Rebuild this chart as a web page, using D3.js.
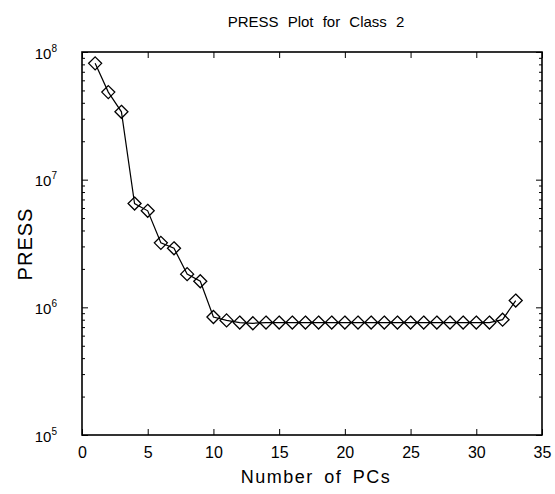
<!DOCTYPE html>
<html>
<head>
<meta charset="utf-8">
<script src="https://cdn.jsdelivr.net/npm/d3@7"></script>
<style>
  body { margin: 0; background: #fff; }
  svg { display: block; font-family: "Liberation Sans", Arial, sans-serif; }
  .domain { display: none; }
</style>
</head>
<body>
<svg id="chart"></svg>
<script>
let pcs = d3.range(1, 34)
let press = [
  8.15e7, 4.85e7, 3.4e7, 6.5e6, 5.7e6, 3.2e6, 2.9e6, 1.82e6, 1.6e6, 8.4e5,
  7.9e5, 7.6e5, 7.5e5, 7.6e5, 7.6e5, 7.6e5, 7.6e5, 7.6e5, 7.6e5, 7.6e5,
  7.6e5, 7.6e5, 7.6e5, 7.6e5, 7.6e5, 7.6e5, 7.6e5, 7.6e5, 7.6e5, 7.6e5,
  7.6e5, 8.0e5, 1.13e6
]
let xTicks = [0, 5, 10, 15, 20, 25, 30, 35]
let yTicks = [1e5, 1e6, 1e7, 1e8]
let yMinor = []
for (let e = 5; e < 8; e++) for (let m = 2; m <= 9; m++) yMinor.push(m * Math.pow(10, e))

let width = 555
let height = 494
let padLeft = 82, padRight = 542, padTop = 52, padBottom = 435

let svg = d3.select('#chart').attr('width', width).attr('height', height)

let xScale = d3.scaleLinear().domain([0, 35]).range([padLeft, padRight])
let yScale = d3.scaleLog().domain([1e5, 1e8]).range([padBottom, padTop])

// frame
svg.append('rect')
   .attr('x', padLeft).attr('y', padTop)
   .attr('width', padRight - padLeft).attr('height', padBottom - padTop)
   .attr('fill', 'none').attr('stroke', '#000').attr('stroke-width', 1.6)

// x axes (bottom with labels, top ticks only)
let xb = svg.append('g')
   .attr('transform', 'translate(0,' + padBottom + ')')
   .call(d3.axisBottom(xScale).tickValues(xTicks).tickSize(-6).tickPadding(12))
xb.selectAll('text').attr('font-size', 16).attr('fill', '#000').style('font-family', 'inherit')

svg.append('g')
   .attr('transform', 'translate(0,' + padTop + ')')
   .call(d3.axisTop(xScale).tickValues(xTicks).tickSize(-6).tickFormat(''))

// y axes
let yl = svg.append('g')
   .attr('transform', 'translate(' + padLeft + ',0)')
   .call(d3.axisLeft(yScale).tickValues(yTicks).tickSize(-6).tickPadding(25))
yl.selectAll('text').each(function (d) {
    let t = d3.select(this).text(null).attr('font-size', 15).attr('fill', '#000')
      .style('font-family', 'inherit').attr('dy', '0.4em')
    t.append('tspan').text('10')
    t.append('tspan').text(Math.round(Math.log10(d))).attr('font-size', 10).attr('dy', '-0.7em')
})
svg.append('g')
   .attr('transform', 'translate(' + padLeft + ',0)')
   .call(d3.axisLeft(yScale).tickValues(yMinor).tickSize(-3).tickFormat(''))
svg.append('g')
   .attr('transform', 'translate(' + padRight + ',0)')
   .call(d3.axisRight(yScale).tickValues(yTicks).tickSize(-6).tickFormat(''))
svg.append('g')
   .attr('transform', 'translate(' + padRight + ',0)')
   .call(d3.axisRight(yScale).tickValues(yMinor).tickSize(-3).tickFormat(''))

svg.selectAll('.tick line').attr('stroke', '#000').attr('stroke-width', 1)

// line
let line = d3.line().x((d, i) => xScale(pcs[i])).y(d => yScale(d))
svg.append('path')
   .datum(press)
   .attr('d', line)
   .attr('fill', 'none').attr('stroke', '#000').attr('stroke-width', 1.2)

// diamond markers
svg.selectAll('.mk')
   .data(press)
   .enter()
   .append('path')
   .attr('class', 'mk')
   .attr('d', 'M0,-6.5L6.5,0L0,6.5L-6.5,0Z')
   .attr('transform', (d, i) => 'translate(' + xScale(pcs[i]) + ',' + yScale(d) + ')')
   .attr('fill', 'none').attr('stroke', '#000').attr('stroke-width', 1.3)

// titles
svg.append('text')
   .attr('x', 316).attr('y', 27)
   .attr('text-anchor', 'middle').attr('font-size', 15)
   .style('word-spacing', '5px')
   .text('PRESS Plot for Class 2')

svg.append('text')
   .attr('x', 316).attr('y', 483)
   .attr('text-anchor', 'middle').attr('font-size', 18)
   .style('letter-spacing', '1.5px').style('word-spacing', '4px')
   .text('Number of PCs')

svg.append('text')
   .attr('transform', 'translate(32,244) rotate(-90)')
   .attr('text-anchor', 'middle').attr('font-size', 20)
   .style('letter-spacing', '1px')
   .text('PRESS')
</script>
</body>
</html>
